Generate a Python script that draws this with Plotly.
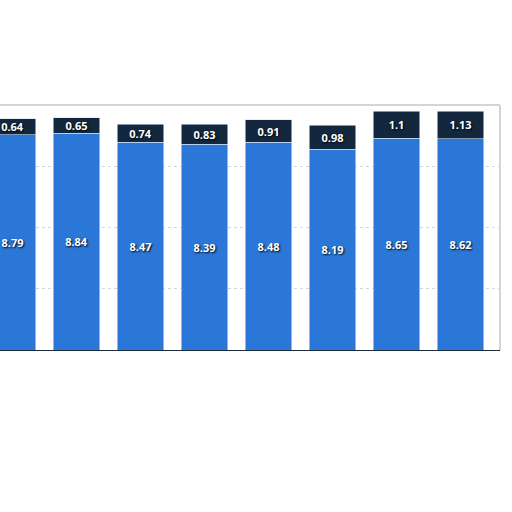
import plotly.graph_objects as go

categories = ['2014', '2015', '2016', '2017', '2018', '2019', '2020', '2021']
base_values = [8.79, 8.84, 8.47, 8.39, 8.48, 8.19, 8.65, 8.62]
top_values = [0.64, 0.65, 0.74, 0.83, 0.91, 0.98, 1.1, 1.13]

label_font = dict(family='Open Sans', size=11, color='white',
                  weight='bold', shadow='1px 1px 2px #000')

fig = go.Figure()
fig.add_bar(
    x=categories, y=base_values,
    marker=dict(color='#2b77d8', line=dict(color='#cfe2f7', width=0.6)),
    text=[f'{v:g}' for v in base_values],
    textposition='inside', insidetextanchor='middle',
    constraintext='none', textfont=label_font,
    width=0.73,
)
fig.add_bar(
    x=categories, y=top_values,
    marker=dict(color='#13283f', line=dict(color='#cfe2f7', width=0.6)),
    text=[f'{v:g}' for v in top_values],
    textposition='inside', insidetextanchor='middle',
    constraintext='none', textfont=label_font,
    width=0.73,
)

fig.update_layout(
    barmode='stack',
    width=512, height=512,
    margin=dict(l=0, r=12, t=105, b=162),
    paper_bgcolor='white',
    plot_bgcolor='white',
    showlegend=False,
)
fig.update_xaxes(
    range=[-0.195, 7.617],
    showticklabels=False,
    showgrid=False,
    showline=True, linecolor='#1d2a38', linewidth=1.2,
    ticks='',
)
fig.update_yaxes(
    range=[0, 10],
    tickvals=[2.5, 5, 7.5],
    showticklabels=False,
    showgrid=True, gridcolor='#d6d6d6', griddash='dot', gridwidth=1,
    zeroline=False,
)
# light frame at the top and right of the plot area
fig.add_shape(type='line', xref='paper', yref='paper', x0=0, x1=1, y0=1, y1=1,
              line=dict(color='#d4d4d4', width=2))
fig.add_shape(type='line', xref='paper', yref='paper', x0=1, x1=1, y0=0, y1=1,
              line=dict(color='#d4d4d4', width=2))

fig.write_html('out.html', config={'displayModeBar': False},
               post_script="document.body.style.margin='0';")
